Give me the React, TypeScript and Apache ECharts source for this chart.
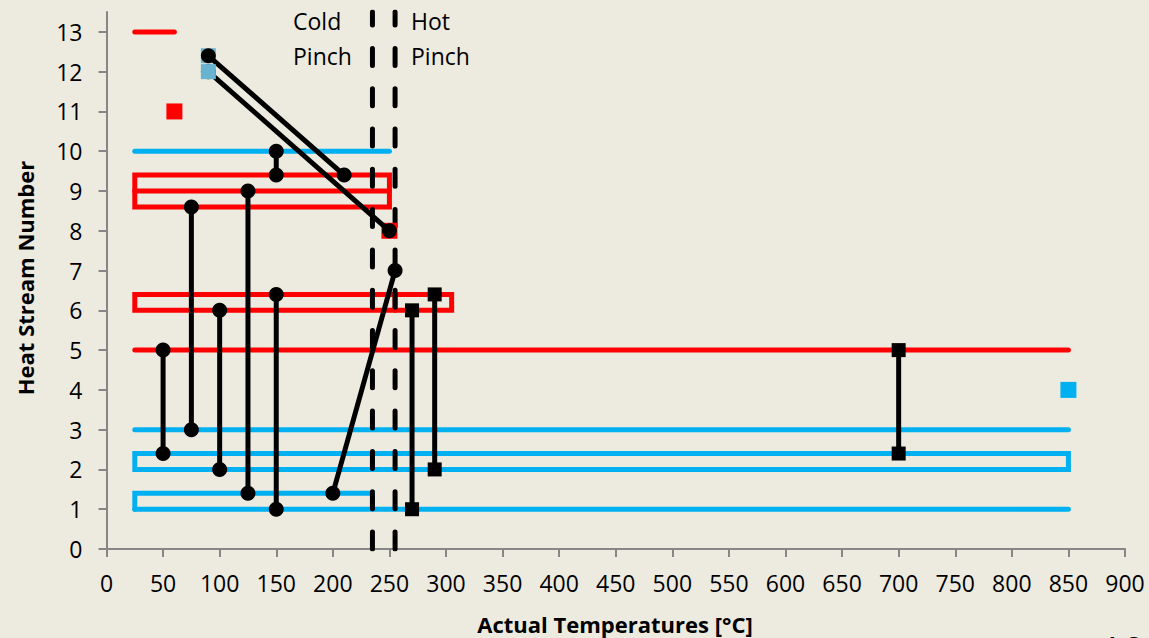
import React, { useEffect, useRef } from "react";
import * as echarts from "echarts";

// ---- data ----
const yTickValues = [0, 1, 2, 3, 4, 5, 6, 7, 8, 9, 10, 11, 12, 13];

const legendRedLine = [[25, 13], [60, 13]];

// hot streams (red)
const hotPaths = [
  [[25, 5], [850, 5]],
  [[25, 9], [250, 9]],
  [[140, 9.4], [250, 9.4], [250, 8.6], [25, 8.6], [25, 9.4], [140, 9.4]],
  [[140, 6.4], [305, 6.4], [305, 6], [25, 6], [25, 6.4], [140, 6.4]],
  [[255, 6], [255, 6.4]],
];

// cold streams (blue)
const coldPaths = [
  [[25, 10], [250, 10]],
  [[25, 3], [850, 3]],
  [[400, 2.4], [850, 2.4], [850, 2], [25, 2], [25, 2.4], [400, 2.4]],
  [[235, 2], [235, 2.4]],
  [[25, 1], [850, 1]],
  [[25, 1], [25, 1.4], [235, 1.4], [235, 1]],
];

const redSquares = [[60, 11], [250, 8]];
const lightBlueSquareLow = [[90, 12.4]];
const lightBlueSquareTop = [[90, 12]];
const blueSquares = [[850, 4]];

// matches below the pinch (circle markers)
const coldSideMatches = [
  [[50, 5], [50, 2.4]],
  [[75, 8.6], [75, 3]],
  [[100, 6], [100, 2]],
  [[125, 9], [125, 1.4]],
  [[150, 6.4], [150, 1]],
  [[150, 10], [150, 9.4]],
  [[200, 1.4], [255, 7]],
  [[90, 12.4], [210, 9.4]],
  [[90, 12], [250, 8]],
];

// matches above the pinch (square markers)
const hotSideMatches = [
  [[270, 6], [270, 1]],
  [[290, 6.4], [290, 2]],
  [[700, 5], [700, 2.4]],
];

const pinchLines = [
  [[235, 0], [235, 13.5]],
  [[255, 0], [255, 13.5]],
];

const FONT = "Open Sans";
const RED = "#FF0000";
const BLUE = "#00B0F0";
const LIGHTBLUE = "#67B3D0";
const AXIS = "#868686";

export default function App() {
  const ref = useRef<HTMLDivElement>(null);

  useEffect(() => {
    if (!ref.current) return;
    const chart = echarts.init(ref.current, undefined, { renderer: "svg" });

    const pathSeries = (paths: number[][][], color: string) =>
      paths.map((p) => ({
        type: "line",
        data: p,
        symbol: "none",
        silent: true,
        z: 2,
        lineStyle: { color, width: 5, cap: "round", join: "miter" },
      }));

    const matchSeries = (paths: number[][][], symbol: string, size: number) =>
      paths.map((p) => ({
        type: "line",
        data: p,
        symbol,
        symbolSize: size,
        showSymbol: true,
        silent: true,
        z: 4,
        itemStyle: { color: "#000", borderWidth: 0 },
        lineStyle: { color: "#000", width: 5 },
      }));

    const squares = (data: number[][], color: string, z: number, size = 15) => ({
      type: "scatter",
      data,
      symbol: "rect",
      symbolSize: size,
      silent: true,
      z,
      itemStyle: { color, opacity: 1 },
    });

    const option: any = {
      animation: false,
      backgroundColor: "#EDEBE0",
      grid: { left: 106.5, right: 24, top: 12, bottom: 89, containLabel: false },
      xAxis: {
        type: "value",
        min: 0,
        max: 900,
        interval: 50,
        splitLine: { show: false },
        axisLine: { show: true, lineStyle: { color: AXIS, width: 2 } },
        axisTick: { show: true, length: 8, lineStyle: { color: AXIS, width: 2 } },
        axisLabel: { fontSize: 23, color: "#000", margin: 22, fontFamily: FONT },
      },
      yAxis: {
        type: "value",
        min: 0,
        max: 13.5,
        interval: 1,
        splitLine: { show: false },
        axisLine: { show: true, lineStyle: { color: AXIS, width: 2 } },
        axisTick: {
          show: true,
          length: 8,
          customValues: yTickValues,
          lineStyle: { color: AXIS, width: 2 },
        },
        axisLabel: {
          fontSize: 23,
          color: "#000",
          margin: 24,
          fontFamily: FONT,
          customValues: yTickValues,
        },
      },
      series: [
        ...pathSeries(hotPaths, RED),
        ...pathSeries([legendRedLine], RED),
        ...pathSeries(coldPaths, BLUE),
        ...pinchLines.map((p) => ({
          type: "line",
          data: p,
          symbol: "none",
          silent: true,
          z: 3,
          lineStyle: { color: "#000", width: 5, type: [17, 23.3], cap: "round" },
        })),
        squares(redSquares, RED, 3, 16),
        squares(lightBlueSquareLow, LIGHTBLUE, 3),
        squares(blueSquares, BLUE, 3, 16),
        ...matchSeries(coldSideMatches, "circle", 15),
        ...matchSeries(hotSideMatches, "rect", 14),
        squares(lightBlueSquareTop, LIGHTBLUE, 5),
      ],
      graphic: [
        { type: "text", x: 293, y: 21, style: { text: "Cold", fontSize: 23, fontFamily: FONT, fill: "#000", align: "left", verticalAlign: "middle" } },
        { type: "text", x: 293, y: 56, style: { text: "Pinch", fontSize: 23, fontFamily: FONT, fill: "#000", align: "left", verticalAlign: "middle" } },
        { type: "text", x: 411, y: 21, style: { text: "Hot", fontSize: 23, fontFamily: FONT, fill: "#000", align: "left", verticalAlign: "middle" } },
        { type: "text", x: 411, y: 56, style: { text: "Pinch", fontSize: 23, fontFamily: FONT, fill: "#000", align: "left", verticalAlign: "middle" } },
        {
          type: "text",
          x: 25,
          y: 278,
          rotation: Math.PI / 2,
          style: { text: "Heat Stream Number", fontSize: 22, fontWeight: "bold", fontFamily: FONT, fill: "#000", align: "center", verticalAlign: "middle" },
        },
        {
          type: "text",
          x: 615,
          y: 624,
          style: { text: "Actual Temperatures [°C]", fontSize: 22, fontWeight: "bold", fontFamily: FONT, fill: "#000", align: "center", verticalAlign: "middle" },
        },
        {
          type: "text",
          x: 1100,
          y: 650,
          style: { text: "19", fontSize: 40, fontFamily: FONT, fill: "#000", align: "left", verticalAlign: "middle" },
        },
      ],
    };

    chart.setOption(option);
    return () => chart.dispose();
  }, []);

  return (
    <div
      ref={ref}
      style={{ position: "fixed", left: 0, top: 0, width: 1149, height: 638 }}
    />
  );
}
